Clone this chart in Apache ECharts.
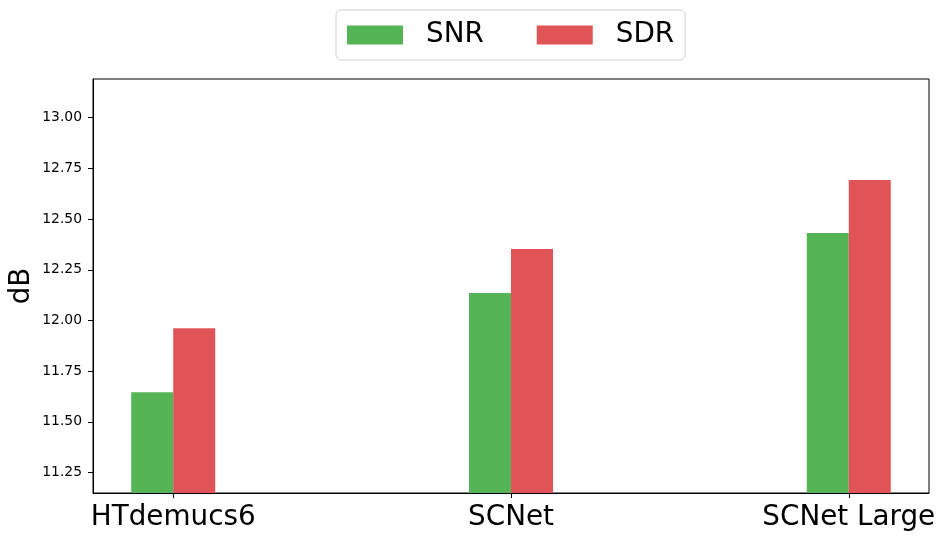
<!DOCTYPE html>
<html>
<head>
<meta charset="utf-8">
<script src="https://cdn.jsdelivr.net/npm/echarts@6/dist/echarts.min.js"></script>
<style>html,body{margin:0;padding:0;background:#fff}#c{width:944px;height:541px}</style>
</head>
<body>
<div id="c"></div>
<script>
const categories = ['HTdemucs6', 'SCNet', 'SCNet Large'];
const snr = [11.646, 12.136, 12.431];
const sdr = [11.962, 12.352, 12.693];
const yTicks = [11.25, 11.5, 11.75, 12.0, 12.25, 12.5, 12.75, 13.0];
const xTicks = [0, 1, 2];

const FONT = 'DejaVu Sans';
const chart = echarts.init(document.getElementById('c'), null, {renderer: 'canvas'});
chart.setOption({
  backgroundColor: '#fff',
  animation: false,
  textStyle: {fontFamily: FONT},
  grid: {left: 93, right: 15, top: 79, bottom: 48, show: true, borderColor: '#000', borderWidth: 1,
    backgroundColor: 'transparent', containLabel: false, outerBoundsMode: 'none'},
  legend: {
    left: 336, top: 10,
    padding: [10, 11, 10, 11],
    itemWidth: 56, itemHeight: 19, itemGap: 53,
    icon: 'rect',
    borderColor: '#d0d0d0', borderWidth: 1, borderRadius: 5,
    textStyle: {fontFamily: FONT, fontSize: 27.8, color: '#000', padding: [0, 0, 0, 18], lineHeight: 30},
    data: ['SNR', 'SDR']
  },
  xAxis: {
    type: 'value', min: -0.2375, max: 2.2375,
    axisLine: {show: true, onZero: false, lineStyle: {color: '#000', width: 1}},
    axisTick: {show: true, length: 5, customValues: xTicks, lineStyle: {color: '#000'}},
    axisLabel: {customValues: xTicks, fontFamily: FONT, fontSize: 27.8, color: '#000', margin: 11,
      hideOverlap: false, formatter: v => categories[Math.round(v)] ?? ''},
    splitLine: {show: false}
  },
  yAxis: {
    type: 'value', min: 11.149, max: 13.191,
    name: 'dB', nameLocation: 'middle', nameGap: 57, nameMoveOverlap: false,
    nameTextStyle: {fontFamily: FONT, fontSize: 27.8, color: '#000'},
    axisLine: {show: true, onZero: false, lineStyle: {color: '#000', width: 1}},
    axisTick: {show: true, length: 5, customValues: yTicks, lineStyle: {color: '#000'}},
    axisLabel: {customValues: yTicks, fontFamily: FONT, fontSize: 13.9, color: '#000', margin: 11,
      formatter: v => Number(v).toFixed(2)},
    splitLine: {show: false}
  },
  series: [
    {name: 'SNR', type: 'bar', data: snr.map((v, i) => [i, v]), barWidth: 42, barGap: '0%',
      itemStyle: {color: 'rgb(85,180,85)'}, clip: true},
    {name: 'SDR', type: 'bar', data: sdr.map((v, i) => [i, v]), barWidth: 42, barGap: '0%',
      itemStyle: {color: 'rgb(224,83,86)'}, clip: true}
  ]
});
</script>
</body>
</html>
